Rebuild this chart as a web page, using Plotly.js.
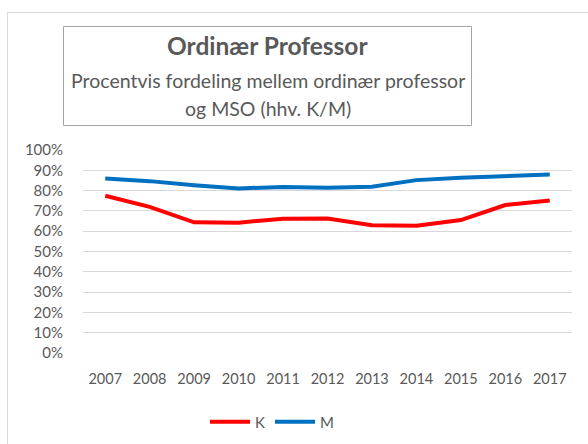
<!DOCTYPE html>
<html>
<head>
<meta charset="utf-8">
<script src="https://cdn.plot.ly/plotly-3.0.1.min.js"></script>
<style>html,body{margin:0;padding:0;background:#fff;}#chart{width:588px;height:444px;}</style>
</head>
<body>
<div id="chart"></div>
<script>
const years = ["2007","2008","2009","2010","2011","2012","2013","2014","2015","2016","2017"];
const seriesK = [77.5, 72.0, 64.4, 64.2, 66.2, 66.3, 63.0, 62.7, 65.5, 72.9, 75.2];
const seriesM = [86.0, 84.7, 82.7, 81.1, 81.8, 81.4, 81.9, 85.2, 86.4, 87.2, 88.0];
const yTicks = [0,10,20,30,40,50,60,70,80,90,100];
const titleMain = "Ordinær Professor";
const subLine1 = "Procentvis fordeling mellem ordinær professor";
const subLine2 = "og MSO (hhv. K/M)";

const FONT = "Lato, 'Open Sans', sans-serif";
const TXT = "#595959";

const traces = [
  {x: years, y: seriesK, name: "K", type: "scatter", mode: "lines",
   line: {color: "#FF0000", width: 4, shape: "linear"}},
  {x: years, y: seriesM, name: "M", type: "scatter", mode: "lines",
   line: {color: "#0070C0", width: 4, shape: "linear"}}
];

// pixel helpers relative to the plot area (83..572 x, 150..353 y)
const L = 83, R = 572, T = 150, B = 353;
const px = v => (v - L) / (R - L);
const py = v => (B - v) / (B - T);

const layout = {
  width: 588, height: 444,
  margin: {l: L, r: 588 - R, t: T, b: 444 - B, pad: 0, autoexpand: false},
  paper_bgcolor: "#ffffff", plot_bgcolor: "#ffffff",
  font: {family: FONT, color: TXT, size: 14},
  showlegend: true,
  legend: {orientation: "h", x: px(205), xanchor: "left", y: py(422), yanchor: "middle",
           itemwidth: 40,
           font: {family: FONT, size: 15, color: TXT}, bgcolor: "rgba(0,0,0,0)", traceorder: "normal"},
  xaxis: {type: "category", range: [-0.5, 10.5], showgrid: false, zeroline: false,
          showline: false, ticks: "", ticklabelstandoff: 15,
          tickfont: {family: FONT, size: 14.5, color: TXT}, fixedrange: true},
  yaxis: {range: [-0.05, 100.05], tickvals: yTicks, ticktext: yTicks.map(v => v + "%"),
          showgrid: true, gridcolor: "#d9d9d9", gridwidth: 1, zeroline: false,
          showline: false, ticks: "", ticklabelstandoff: 19,
          tickfont: {family: FONT, size: 15, color: TXT}, fixedrange: true},
  shapes: [
    {type: "rect", xref: "paper", yref: "paper", x0: px(7.5), x1: px(600), y0: py(470), y1: py(12.5),
     line: {color: "#d9d9d9", width: 1}, fillcolor: "rgba(0,0,0,0)", layer: "below"},
    {type: "rect", xref: "paper", yref: "paper", x0: px(63.5), x1: px(471.5), y0: py(125.5), y1: py(26.5),
     line: {color: "#a6a6a6", width: 1}, fillcolor: "rgba(0,0,0,0)", layer: "below"}
  ],
  annotations: [
    {text: "<b>" + titleMain + "</b>", xref: "paper", yref: "paper", x: px(267.5), y: py(45),
     xanchor: "center", yanchor: "middle", showarrow: false, font: {family: FONT, size: 24.5, color: TXT}},
    {text: subLine1, xref: "paper", yref: "paper", x: px(267.5), y: py(80),
     xanchor: "center", yanchor: "middle", showarrow: false, font: {family: FONT, size: 19.5, color: TXT}},
    {text: subLine2, xref: "paper", yref: "paper", x: px(267.5), y: py(108),
     xanchor: "center", yanchor: "middle", showarrow: false, font: {family: FONT, size: 19.5, color: TXT}}
  ]
};

Plotly.newPlot("chart", traces, layout, {displayModeBar: false, staticPlot: true});
</script>
</body>
</html>
